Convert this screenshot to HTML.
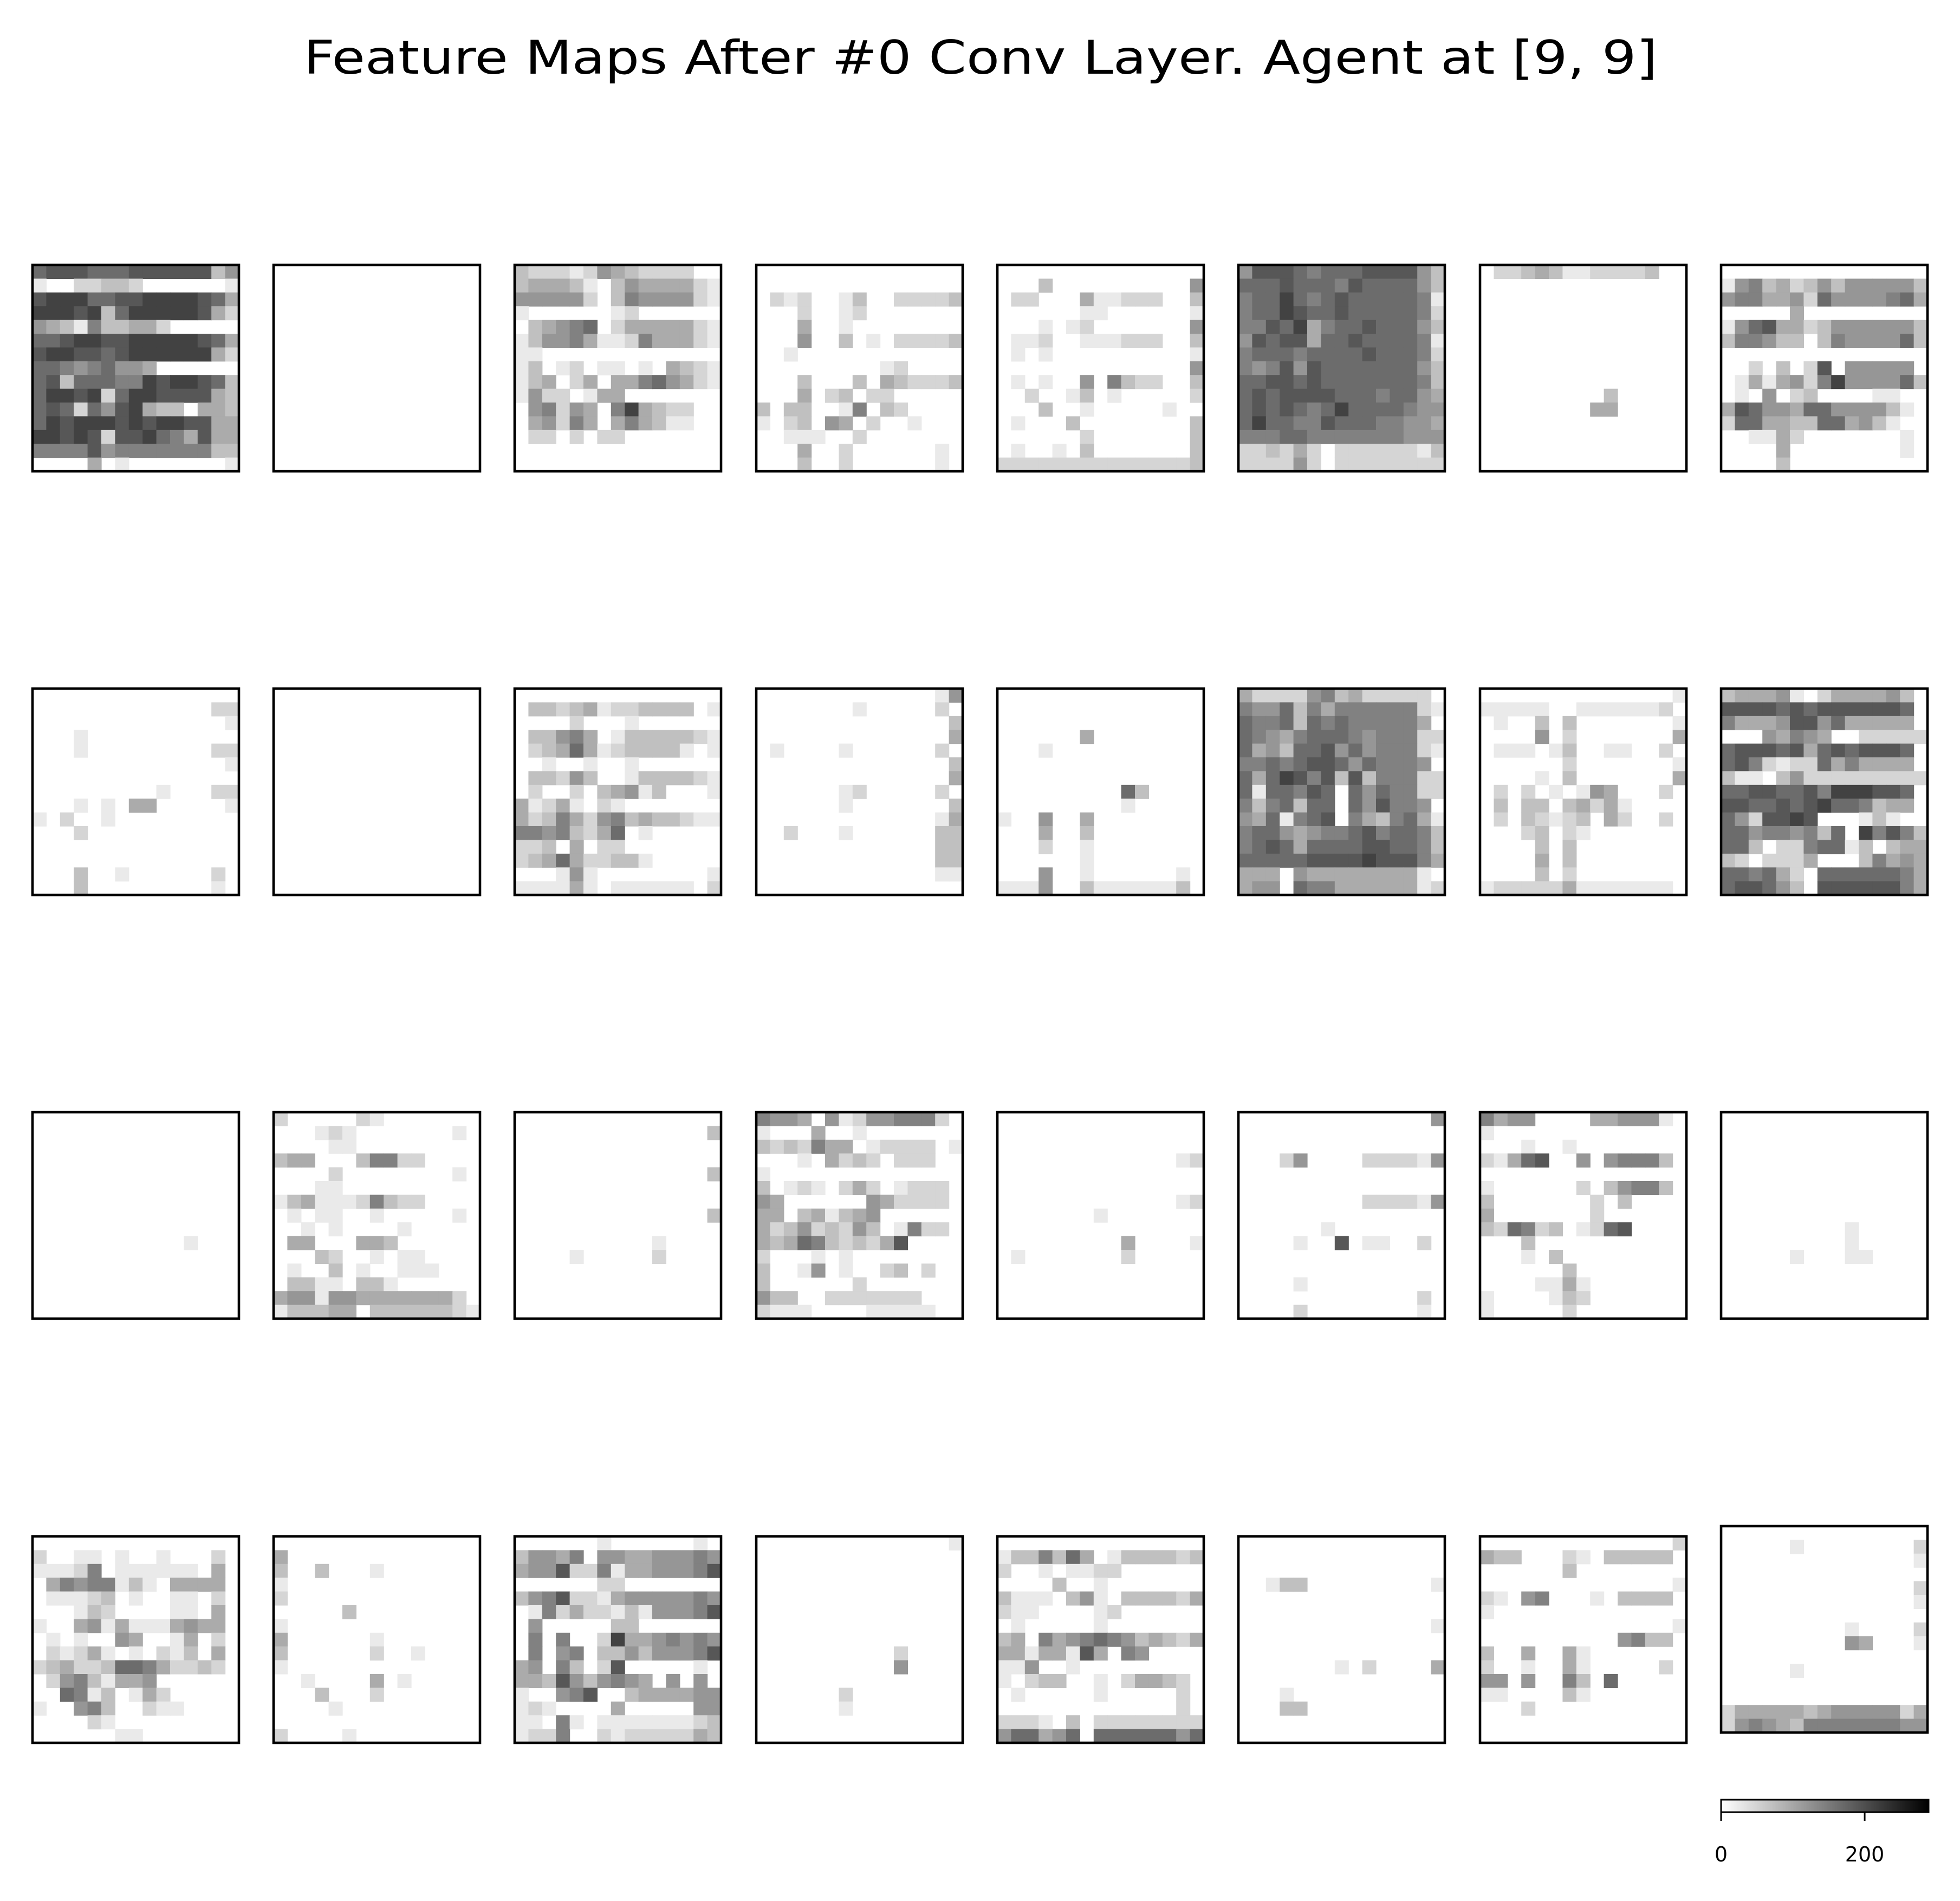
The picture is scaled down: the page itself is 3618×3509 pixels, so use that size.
<!DOCTYPE html>
<html><head><meta charset="utf-8"><style>
html,body{margin:0;padding:0;background:#fff;}
svg{display:block;}
</style></head><body>
<svg id="fig" xmlns="http://www.w3.org/2000/svg" width="3618" height="3509" viewBox="0 0 3618 3509">
<rect x="0" y="0" width="3618" height="3509" fill="#fff"/>
<text x="1810" y="136" font-family="DejaVu Sans, Liberation Sans, sans-serif" font-size="86" text-anchor="middle" textLength="2499" lengthAdjust="spacingAndGlyphs" fill="#000">Feature Maps After #0 Conv Layer. Agent at [9, 9]</text>
<g id="panels"></g>
<g id="cbar"></g>
</svg>
<script>
// Darkness level per cell (0 = white/0, 9 = darkest), 15x15 per feature map
const maps = [
["788877788888835","100223320000001","899977889999874","999893799999842","543163344200000","778998899999874","899887899999942","776567554000000","783777669899873","799892799888843","787275894330443","798999898998844","998982889764844","666685666666633","000040100000001"],
["000000000000000","000000000000000","000000000000000","000000000000000","000000000000000","000000000000000","000000000000000","000000000000000","000000000000000","000000000000000","000000000000000","000000000000000","000000000000000","000000000000000","000000000000000"],
["322212543222200","344431035444421","555552036555521","100000012000000","034567024444421","135564112644421","110000000000000","130120110104321","134024044675421","152201440000000","056254069432200","045264046431100","022020220000000","000000000000000","000000000000000"],
["000000000000000","000000000000000","021200130022223","000200120000000","000400100000000","000500301022223","001000000000000","000000000120000","000300030432223","000402302200000","303300160320000","102305402001000","001110020000000","000400200000010","000300200000010"],
["000000000000000","000300000000005","022000411222003","000000110000001","000101200000005","011200111222003","010100000000001","000000000000005","010100506322003","002001301000002","000300100000100","010003000000003","000000200000003","010010300000003","222222222222223"],
["588876777888853","777877768777753","677976787777761","677987787777762","668794677877753","587884778777761","677767777877762","656858777777753","778878777777763","787888877767754","787876797777655","797766877766554","666776666666555","223242022222213","222252022222222"],
["022343112222300","000000000000000","000000000000000","000000000000000","000000000000000","000000000000000","000000000000000","000000000000000","000000000000000","000000000300000","000000004400000","000000000000000","000000000000000","000000000000000","000000000000000"],
["000000000000000","156342353555553","566445275555674","000004000000000","157844235555553","366533036555573","000000000000000","002030280555550","014145269555573","010502300001100","487554775555310","277443377453100","001142000000010","000040000000010","000030000000000"],
["000000000000000","000000000000022","000000000000001","000100000000000","000100000000022","000000000000001","000000000000000","000000000100022","000101044000001","102001000000000","000200000000000","000000000000000","000000000000000","000300100000020","000300000000010"],
["000000000000000","000000000000000","000000000000000","000000000000000","000000000000000","000000000000000","000000000000000","000000000000000","000000000000000","000000000000000","000000000000000","000000000000000","000000000000000","000000000000000","000000000000000"],
["000000000000000","033234122333301","000020001000000","033564013333321","023474123333101","001001001000000","033253001333321","020020345130001","412410210000000","423642563433211","665632470100000","223040220000000","234742233100000","000151000000001","111141011111102"],
["000000000000015","000000010000020","000000000000003","000000000000004","010000100000020","000000000000003","000000000000004","000000120000020","000000100000003","000000000000014","002000100000033","000000000000033","000000000000033","000000000000011","000000000000000"],
["000000000000000","000000000000000","000000000000000","000000400000000","000100000000000","000000000000000","000000000000000","000000000730000","000000000100000","100500400000000","000400300000000","000200100000000","000000100000000","000500100000010","111500311111130"],
["422225634222220","655736466666621","766737676666640","765467776566622","745377857566621","667678875766650","747986838366622","717768707576622","636737707586650","547167806436741","677545667867763","678747777887763","777778888988864","444054444444410","455076644444412"],
["000000000000001","111110011111120","010030300000001","000050200000004","011101300110020","000000200000001","000010300000004","020201015400020","030330342410000","020321230420020","000230210000000","000030300000000","000040300000000","000030200000000","122222411111110"],
["344451024444530","888878788888870","644458857444440","000546540022222","788878478788870","786212274644440","311035222222222","778877869998870","887787897763440","752889800013100","775665637096863","773022677130344","320222400036454","776742077777764","788753088888864"],
["000000000000000","000000000000000","000000000000000","000000000000000","000000000000000","000000000000000","000000000000000","000000000000000","000000000000000","000000000001000","000000000000000","000000000000000","000000000000000","000000000000000","000000000000000"],
["200000210000000","000121000000010","000011000000000","344000366220000","000020000000010","000110000000000","134111263220000","010110010000010","001010000100000","044000443000000","000320010110000","010030100111000","033110331000000","455155444444420","133344033333321"],
["000000000000000","000000000000003","000000000000000","000000000000000","000000000000003","000000000000000","000000000000000","000000000000003","000000000000000","000000000010000","000010000020000","000000000000000","000000000000000","000000000000000","000000000000000"],
["655405125566620","100040010000000","323264401222201","000104232022200","100000000000000","301210242012220","540000005422220","440341345000000","423523253016220","434763232480000","200010100000000","300150100230200","300000020000000","533002222222000","211100001111100"],
["000000000000000","000000000000000","000000000000000","000000000000012","000000000000000","000000000000000","000000000000012","000000010000000","000000000000000","000000000400001","010000000200000","000000000000000","000000000000000","000000000000000","000000000000000"],
["000000000000005","000000000000000","000000000000000","000250000222215","000000000000000","000000000000000","000000000222215","000000000000000","000000100000000","000010080110020","000000000000000","000000000000000","000010000000000","000000000000020","000020000000010"],
["645500004455510","100000000000000","000100100000000","214780050566630","000000000000000","100000020356630","300000002030000","400000002000000","327623012780000","000300000000000","000103000000000","000000300000000","000011410000000","100001320000000","100000200000000"],
["000000000000000","000000000000000","000000000000000","000000000000000","000000000000000","000000000000000","000000000000000","000000000000000","000000000100000","000000000100000","000001000110000","000000000000000","000000000000000","000000000000000","000000000000000"],
["000000000000000","200110100100020","111260111111040","046566131044440","011123010011020","000132000011040","100451411145440","010100540014020","021241010213040","234223776422320","025631445000000","007613014200000","100563002110000","000021000000000","000000110000000"],
["000000000000000","400000000000000","300300010000000","100000000000000","200000000000000","000003000000000","100000000000000","400000010000000","300000020010000","100000000000000","001000040100000","000300020000000","000010000000000","000000000000000","200001000000000"],
["000000100000010","355460554455565","455822614455568","000000220000000","356822145555565","016242213155568","050000033000000","060600294456565","060560335355568","450630280000010","443853565405050","100568003444455","121000040000055","110610111111123","122600212222243"],
["000000000000001","000000000000000","000000000000000","000000000000000","000000000000000","000000000000000","000000000000000","000000000000000","000000000020000","000000000050000","000000000000000","000000200000000","000000100000000","000000000000000","000000000000000"],
["000000000000000","133637401333323","200101122000000","000030010000000","311103510333324","211000012000000","010000010000000","340645676534324","441441840650000","115001000000000","102330010244320","010000010000020","000000000000020","222103022222222","577457077777757"],
["000000000000000","000000000000000","000000000000000","001330000000001","000000000000000","000000000000000","000000000000001","000000000000000","000000000000000","000000010200004","000000000000000","000100000000000","000330000000000","000000000000000","000000000000000"],
["000000000000002","433000210333330","000000300000000","000000000000001","210560001033330","100000000000000","000000000000001","000000000056330","300400410000000","200100410000020","550500630700000","110000310000000","000200000000000","000000000000000","000000000000000"],
["000000000000000","000001000000002","000000000000001","000000000000000","000000000000002","000000000000001","000000000000000","000000000100002","000000000540001","000000000000000","000001000000000","000000000000000","000000000000000","244444345555524","256543666666655"]
];
const cbarTicks = [0, 200];
const cbarMax = 289;

const NS = "http://www.w3.org/2000/svg";
const colX = [60, 505, 950, 1396, 1841, 2286, 2732, 3177];
const rowY = [489, 1271, 2053, 2836];
const P = 381;
function grayOf(d){ const v = Math.max(0, Math.round(255 - d * 21)); return "rgb(" + v + "," + v + "," + v + ")"; }
const panels = document.getElementById("panels");
maps.forEach((m, k) => {
  const ci = k % 8, ri = Math.floor(k / 8);
  const x0 = colX[ci];
  const y0 = (k === 31) ? 2817 : rowY[ri];
  const g = document.createElementNS(NS, "g");
  
  
  const n = m.length, cs = P / n;
  m.forEach((row, r) => {
    for (let c = 0; c < row.length; c++) {
      const d = parseInt(row[c], 10);
      if (d === 0) continue;
      const rc = document.createElementNS(NS, "rect");
      rc.setAttribute("x", (x0 + c * cs).toFixed(2));
      rc.setAttribute("y", (y0 + r * cs).toFixed(2));
      rc.setAttribute("width", (cs + 0.6).toFixed(2));
      rc.setAttribute("height", (cs + 0.6).toFixed(2));
      rc.setAttribute("fill", grayOf(d));
      
      
      g.appendChild(rc);
    }
  });
  const b = document.createElementNS(NS, "rect");
  b.setAttribute("x", x0); b.setAttribute("y", y0);
  b.setAttribute("width", P); b.setAttribute("height", P);
  b.setAttribute("fill", "none"); b.setAttribute("stroke", "#000"); b.setAttribute("stroke-width", "4.6");
  
  
  g.appendChild(b);
  panels.appendChild(g);
});

// colorbar
const cb = document.getElementById("cbar");
const cbx = 3177, cby = 3322, cbw = 383, cbh = 23;
const defs = document.createElementNS(NS, "defs");
defs.innerHTML = '<linearGradient id="cbg" x1="0" x2="1" y1="0" y2="0"><stop offset="0" stop-color="#fff"/><stop offset="1" stop-color="#000"/></linearGradient>';
cb.appendChild(defs);
const cr = document.createElementNS(NS, "rect");
cr.setAttribute("x", cbx); cr.setAttribute("y", cby); cr.setAttribute("width", cbw); cr.setAttribute("height", cbh);
cr.setAttribute("fill", "url(#cbg)"); cr.setAttribute("stroke", "#000"); cr.setAttribute("stroke-width", "3");


cb.appendChild(cr);
cbarTicks.forEach(t => {
  const x = cbx + (t / cbarMax) * cbw;
  const ln = document.createElementNS(NS, "line");
  ln.setAttribute("x1", x); ln.setAttribute("x2", x);
  ln.setAttribute("y1", cby + cbh); ln.setAttribute("y2", cby + cbh + 16);
  ln.setAttribute("stroke", "#000"); ln.setAttribute("stroke-width", "3");
  
  
  cb.appendChild(ln);
  const tx = document.createElementNS(NS, "text");
  tx.setAttribute("x", x); tx.setAttribute("y", 3436);
  tx.setAttribute("text-anchor", "middle");
  tx.setAttribute("font-family", "DejaVu Sans, Liberation Sans, sans-serif");
  tx.setAttribute("font-size", "38");
  tx.textContent = String(t);
  
  
  cb.appendChild(tx);
});
</script>
</body></html>
